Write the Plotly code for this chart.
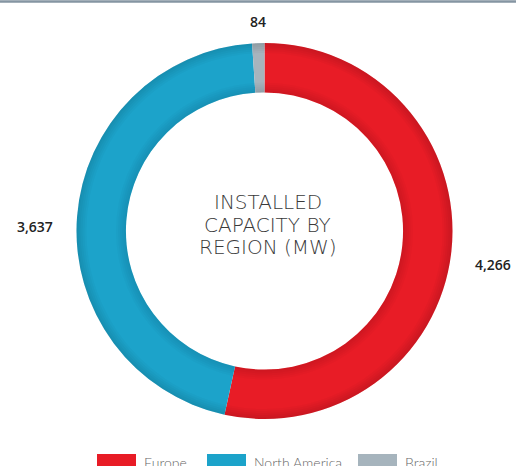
import math
import plotly.graph_objects as go

# ---- data ----
regions = ["Europe", "North America", "Brazil"]
capacity_mw = [4266, 3637, 84]
colors = ["#E81C26", "#1CA3CA", "#A6B4BD"]
center_title_lines = ["INSTALLED", "CAPACITY BY", "REGION (MW)"]

W, H = 516, 466
cx, cy, R = 264.5, 231.0, 188.0   # pixel geometry of the ring
hole = 0.737
R_in = R * hole


def px_x(x):
    return x / W


def px_y(y):
    return 1 - y / H


def dom(r):
    return dict(x=[px_x(cx - r), px_x(cx + r)], y=[px_y(cy + r), px_y(cy - r)])


fig = go.Figure()
fig.add_trace(go.Pie(
    labels=regions,
    values=capacity_mw,
    hole=hole,
    sort=False,
    direction="clockwise",
    rotation=0,
    marker=dict(colors=colors, line=dict(width=0)),
    textinfo="none",
    hoverinfo="label+value",
    showlegend=False,
    domain=dom(R),
))

# subtle, smooth edge shading of the ring (outer and inner rims)
bands = []
for w in (2, 4, 6, 8, 10):
    bands.append((R, (R - w) / R, 0.022))
    bands.append((R_in + w, R_in / (R_in + w), 0.018))
for r_out, h, a in bands:
    fig.add_trace(go.Pie(
        values=[1], hole=h, sort=False, textinfo="none", hoverinfo="skip",
        marker=dict(colors=[f"rgba(0,0,0,{a})"], line=dict(width=0)),
        showlegend=False, domain=dom(r_out),
    ))

# value labels positioned from slice mid-angles
total = sum(capacity_mw)
cum = 0
annotations = []
for name, v in zip(regions, capacity_mw):
    mid = (cum + v / 2) / total * 2 * math.pi
    cum += v
    s, c = math.sin(mid), math.cos(mid)
    gap = 22 if abs(s) > 0.5 else 10
    lx = cx + (R + gap) * s
    ly = cy - (R + gap) * c
    if s > 0.5:
        xa, ya = "left", "middle"
        ly += 11
    elif s < -0.5:
        xa, ya = "right", "middle"
        ly += 11
    else:
        xa, ya = "center", ("bottom" if c > 0 else "top")
    annotations.append(dict(
        x=px_x(lx), y=px_y(ly), xref="paper", yref="paper",
        text=f"{v:,}", showarrow=False, xanchor=xa, yanchor=ya,
        font=dict(family="Open Sans", size=14, color="#222222", weight=600),
    ))

for i, line in enumerate(center_title_lines):
    annotations.append(dict(
        x=px_x(cx + 3), y=px_y(202 + 22.5 * i), xref="paper", yref="paper",
        text=line, showarrow=False, xanchor="center", yanchor="middle",
        font=dict(family="DejaVu Sans", size=20, color="#3a3a3a", weight=200),
    ))

# legend (swatches + labels) along the bottom edge
shapes = [dict(type="line", xref="paper", yref="paper", x0=0, x1=1,
               y0=px_y(1.5), y1=px_y(1.5), line=dict(color="#8595a2", width=2.5),
               layer="above")]
legend_x = [97, 207, 358]
for name, col, lx in zip(regions, colors, legend_x):
    shapes.append(dict(type="rect", xref="paper", yref="paper",
                       x0=px_x(lx), x1=px_x(lx + 39), y0=px_y(470), y1=px_y(454),
                       fillcolor=col, line=dict(width=0)))
    annotations.append(dict(
        x=px_x(lx + 45), y=px_y(452), xref="paper", yref="paper",
        text=name, showarrow=False, xanchor="left", yanchor="top",
        font=dict(family="Lato", size=14, color="#666666", weight=300),
    ))

fig.update_layout(
    width=W, height=H,
    margin=dict(l=0, r=0, t=0, b=0, autoexpand=False),
    paper_bgcolor="white", plot_bgcolor="white",
    annotations=annotations, shapes=shapes,
    showlegend=False,
)
fig.write_html(
    "out.html",
    config={"displayModeBar": False},
    post_script="document.body.style.margin='0';document.body.style.padding='0';"
                "document.body.style.overflow='hidden';",
)
